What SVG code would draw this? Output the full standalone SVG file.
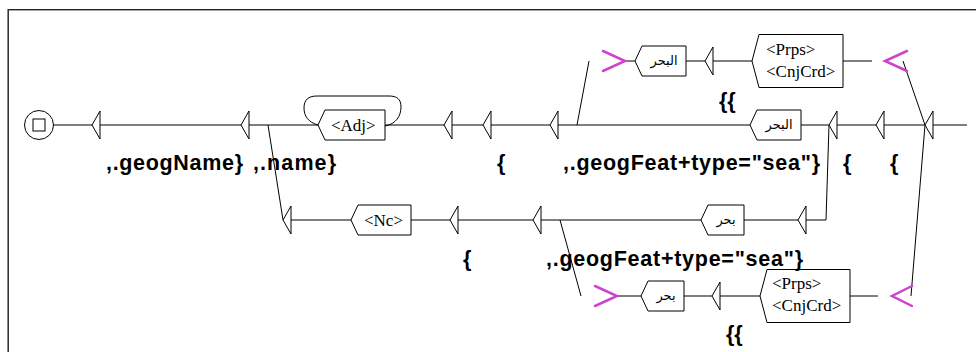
<svg xmlns="http://www.w3.org/2000/svg" width="976" height="352" viewBox="0 0 976 352">
<style>
.ln{stroke:#000;stroke-width:1;fill:none}
.box{fill:#fff;stroke:#000;stroke-width:1}
.tri{fill:#fff;stroke:#000;stroke-width:1}
.ctx{fill:none;stroke:#cc44cc;stroke-width:2.5;stroke-linecap:round;stroke-linejoin:miter}
.lbl{font-family:"Liberation Sans",Arial,sans-serif;font-weight:bold;font-size:21.5px;fill:#000}
.bt{font-family:"Liberation Serif","Times New Roman",serif;font-size:17px;fill:#000}
.ar{font-family:"DejaVu Sans","Noto Sans",sans-serif;font-size:13px;fill:#000}
</style>
<rect x="0" y="0" width="976" height="352" fill="#fff"/>
<g id="frame">
<line x1="8" y1="9.5" x2="976" y2="9.5" stroke="#222" stroke-width="1"/>
<line x1="9" y1="10.5" x2="976" y2="10.5" stroke="#aaa" stroke-width="1"/>
<line x1="7.5" y1="9" x2="7.5" y2="352" stroke="#888" stroke-width="1"/>
<line x1="8.5" y1="9" x2="8.5" y2="352" stroke="#333" stroke-width="1"/>
</g>
<g id="connectors">
<path class="ln" d="M54 125H92M100 125H241M248 125H318M385 125H444M452 125H483M491 125H550M558 125H750M801 125H829M837 125H876M883 125H925M933 125H967"/>
<path class="ln" d="M268 125L283 220M577 125L589 61M829 125L826 220M925 125L903 61M925 125L911 296"/>
<path class="ln" d="M625 61H635M686 61H705M713 61H752M843 61H872"/>
<path class="ln" d="M290 220H351M411 220H450M458 220H533M541 220H701M744 220H798M806 220H826"/>
<path class="ln" d="M560 220L581 296"/>
<path class="ln" d="M617 296H641M684 296H712M720 296H760M850 296H878"/>
<path class="ln" d="M385 126C396 124 401 116 401 107C401 99 397 96 389 96L317 96C308 96 304 100 304 108C304 116 308 122 318 125"/>
</g>
<g id="final">
<circle cx="39" cy="125" r="14.5" fill="#fff" stroke="#000"/>
<rect x="33" y="119" width="12" height="12" fill="#fff" stroke="#000"/>
</g>
<g id="empty-boxes">
<polygon class="tri" points="100,111 92,125 100,139"/>
<polygon class="tri" points="249,111 241,125 249,139"/>
<polygon class="tri" points="452,111 444,125 452,139"/>
<polygon class="tri" points="491,111 483,125 491,139"/>
<polygon class="tri" points="558,111 550,125 558,139"/>
<polygon class="tri" points="837,111 829,125 837,139"/>
<polygon class="tri" points="884,111 876,125 884,139"/>
<polygon class="tri" points="933,111 925,125 933,139"/>
<polygon class="tri" points="291,206 283,220 291,234"/>
<polygon class="tri" points="458,206 450,220 458,234"/>
<polygon class="tri" points="541,206 533,220 541,234"/>
<polygon class="tri" points="806,206 798,220 806,234"/>
<polygon class="tri" points="713,47 705,61 713,75"/>
<polygon class="tri" points="720,282 712,296 720,310"/>
</g>
<g id="adj">
<polygon class="box" points="325,110 385,110 385,140 325,140 318,125"/>
<text class="bt" x="331" y="131">&lt;Adj&gt;</text>
</g>
<g id="nc">
<polygon class="box" points="358,205 411,205 411,235 358,235 351,220"/>
<text class="bt" x="364" y="226">&lt;Nc&gt;</text>
</g>
<g id="albahr-main">
<polygon class="box" points="757,110 801,110 801,140 757,140 750,125"/>
<text class="ar" x="779" y="129" text-anchor="middle">البحر</text>
</g>
<g id="bahr-lower">
<polygon class="box" points="708,205 744,205 744,235 708,235 701,220"/>
<text class="ar" x="726" y="224" text-anchor="middle">بحر</text>
</g>
<g id="albahr-upper">
<polygon class="box" points="642,46 686,46 686,76 642,76 635,61"/>
<text class="ar" x="664" y="65" text-anchor="middle">البحر</text>
</g>
<g id="prps-upper">
<polygon class="box" points="759,34.5 843,34.5 843,87.5 759,87.5 752,61"/>
<text class="bt" x="766" y="55">&lt;Prps&gt;</text>
<text class="bt" x="766" y="77">&lt;CnjCrd&gt;</text>
</g>
<g id="bahr-bottom">
<polygon class="box" points="648,281 684,281 684,311 648,311 641,296"/>
<text class="ar" x="666" y="300" text-anchor="middle">بحر</text>
</g>
<g id="prps-lower">
<polygon class="box" points="767,269.5 850,269.5 850,322.5 767,322.5 760,296"/>
<text class="bt" x="772" y="289">&lt;Prps&gt;</text>
<text class="bt" x="772" y="311">&lt;CnjCrd&gt;</text>
</g>
<g id="contexts">
<polyline class="ctx" points="603,51 625,61 603,71"/>
<polyline class="ctx" points="907,51 885,61 907,71"/>
<polyline class="ctx" points="595,286 617,296 595,306"/>
<polyline class="ctx" points="912,286 892,296 912,306"/>
</g>
<g id="outputs">
<text class="lbl" x="106" y="170" textLength="137" lengthAdjust="spacing">,.geogName}</text>
<text class="lbl" x="253" y="170" textLength="83" lengthAdjust="spacing">,.name}</text>
<text class="lbl" x="497" y="170">{</text>
<text class="lbl" x="563" y="170" textLength="257" lengthAdjust="spacing">,.geogFeat+type="sea"}</text>
<text class="lbl" x="843" y="170">{</text>
<text class="lbl" x="890" y="170">{</text>
<text class="lbl" x="719" y="108">{{</text>
<text class="lbl" x="463" y="266">{</text>
<text class="lbl" x="546" y="266" textLength="257" lengthAdjust="spacing">,.geogFeat+type="sea"}</text>
<text class="lbl" x="726" y="341">{{</text>
</g>
</svg>
